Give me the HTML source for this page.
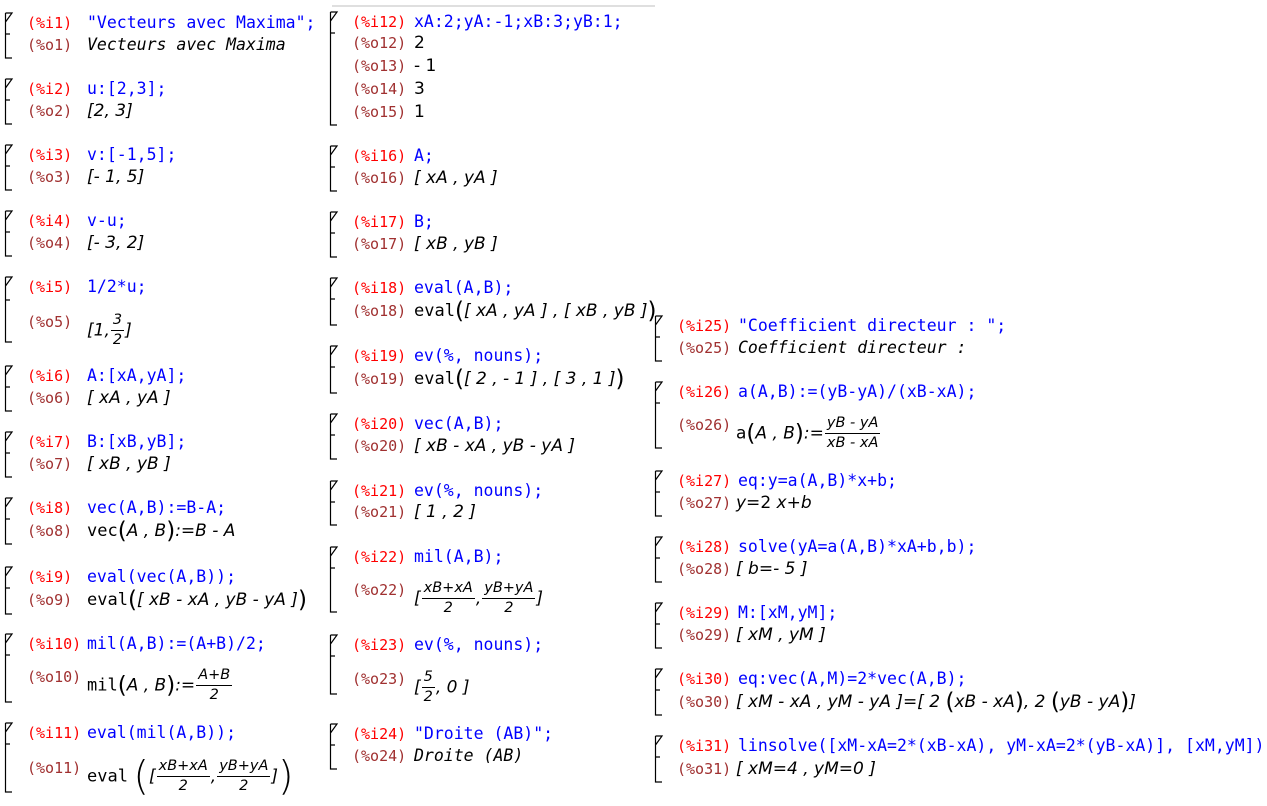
<!DOCTYPE html>
<html><head><meta charset="utf-8"><style>
body{margin:0;width:1267px;height:806px;background:#fff;position:relative;overflow:hidden}
.l{position:absolute;height:22px;white-space:pre}
.li{font:15px "DejaVu Sans Mono","Liberation Mono",monospace;color:#f00;line-height:22px}
.lo{font:15px "DejaVu Sans Mono","Liberation Mono",monospace;color:#a03030;line-height:22px}
.in{font:16.5px "DejaVu Sans Mono","Liberation Mono",monospace;color:#0000ff;line-height:22px}
.out{font:italic 16.5px "DejaVu Sans Mono","Liberation Mono",monospace;color:#000;line-height:22px}
.m{font:italic 17px "DejaVu Sans","Liberation Sans",sans-serif;color:#000;line-height:22px}
.up{font-style:normal;font-family:"DejaVu Sans Mono",monospace}
.fr{display:inline-block;vertical-align:middle;text-align:center;font-size:14.5px;line-height:19px;margin:0 1px}
.fr>span{display:block;padding:0 2px}
.fr>span:first-child{border-bottom:1px solid #000}
.bp{font-style:normal;font-size:23px;vertical-align:-2px}
.hp{font-style:normal;font-size:40px;vertical-align:-8px;font-weight:200}
</style></head><body>
<svg width="1267" height="806" style="position:absolute;left:0;top:0" stroke="#000" stroke-width="1.2" fill="none">
<line x1="332" y1="6" x2="655" y2="6" stroke="#ccc"/>
<path d="
M5.5 13V58H12M5.5 34H10M5.5 22L12 13H5.5
M5.5 79V124H12M5.5 100H10M5.5 88L12 79H5.5
M5.5 145V190H12M5.5 166H10M5.5 154L12 145H5.5
M5.5 211V256H12M5.5 232H10M5.5 220L12 211H5.5
M5.5 277V342H12M5.5 300H10M5.5 286L12 277H5.5
M5.5 366V411H12M5.5 387H10M5.5 375L12 366H5.5
M5.5 432V477H12M5.5 453H10M5.5 441L12 432H5.5
M5.5 498V544H12M5.5 519H10M5.5 507L12 498H5.5
M5.5 567V614H12M5.5 588H10M5.5 576L12 567H5.5
M5.5 634V702H12M5.5 655H10M5.5 643L12 634H5.5
M5.5 723V792H12M5.5 744H10M5.5 732L12 723H5.5
M330.5 12V125H337M330.5 33H335M330.5 21L337 12H330.5
M330.5 146V191H337M330.5 167H335M330.5 155L337 146H330.5
M330.5 212V257H337M330.5 233H335M330.5 221L337 212H330.5
M330.5 278V325H337M330.5 299H335M330.5 287L337 278H330.5
M330.5 346V393H337M330.5 367H335M330.5 355L337 346H330.5
M330.5 414V459H337M330.5 435H335M330.5 423L337 414H330.5
M330.5 481V525H337M330.5 502H335M330.5 490L337 481H330.5
M330.5 547V612H337M330.5 568H335M330.5 556L337 547H330.5
M330.5 635V694H337M330.5 656H335M330.5 644L337 635H330.5
M330.5 724V769H337M330.5 745H335M330.5 733L337 724H330.5
M655.5 316V361H662M655.5 337H660M655.5 325L662 316H655.5
M655.5 382V448H662M655.5 403H660M655.5 391L662 382H655.5
M655.5 471V516H662M655.5 492H660M655.5 480L662 471H655.5
M655.5 537V582H662M655.5 558H660M655.5 546L662 537H655.5
M655.5 603V648H662M655.5 624H660M655.5 612L662 603H655.5
M655.5 669V715H662M655.5 690H660M655.5 678L662 669H655.5
M655.5 736V782H662M655.5 757H660M655.5 745L662 736H655.5"/>
</svg>

<!-- column 1 -->
<div class="l li" style="left:27px;top:12px">(%i1)</div><div class="l in" style="left:87px;top:12px">"Vecteurs avec Maxima";</div>
<div class="l lo" style="left:27px;top:34px">(%o1)</div><div class="l out" style="left:87px;top:34px">Vecteurs avec Maxima</div>
<div class="l li" style="left:27px;top:78px">(%i2)</div><div class="l in" style="left:87px;top:78px">u:[2,3];</div>
<div class="l lo" style="left:27px;top:100px">(%o2)</div><div class="l m" style="left:87px;top:100px">[2, 3]</div>
<div class="l li" style="left:27px;top:144px">(%i3)</div><div class="l in" style="left:87px;top:144px">v:[-1,5];</div>
<div class="l lo" style="left:27px;top:166px">(%o3)</div><div class="l m" style="left:87px;top:166px">[- 1, 5]</div>
<div class="l li" style="left:27px;top:210px">(%i4)</div><div class="l in" style="left:87px;top:210px">v-u;</div>
<div class="l lo" style="left:27px;top:232px">(%o4)</div><div class="l m" style="left:87px;top:232px">[- 3, 2]</div>
<div class="l li" style="left:27px;top:276px">(%i5)</div><div class="l in" style="left:87px;top:276px">1/2*u;</div>
<div class="l lo" style="left:27px;top:311px">(%o5)</div><div class="l m" style="left:87px;top:311px">[1,<span class="fr"><span>3</span><span>2</span></span>]</div>
<div class="l li" style="left:27px;top:365px">(%i6)</div><div class="l in" style="left:87px;top:365px">A:[xA,yA];</div>
<div class="l lo" style="left:27px;top:387px">(%o6)</div><div class="l m" style="left:87px;top:387px">[ xA , yA ]</div>
<div class="l li" style="left:27px;top:431px">(%i7)</div><div class="l in" style="left:87px;top:431px">B:[xB,yB];</div>
<div class="l lo" style="left:27px;top:453px">(%o7)</div><div class="l m" style="left:87px;top:453px">[ xB , yB ]</div>
<div class="l li" style="left:27px;top:497px">(%i8)</div><div class="l in" style="left:87px;top:497px">vec(A,B):=B-A;</div>
<div class="l lo" style="left:27px;top:520px">(%o8)</div><div class="l m" style="left:87px;top:520px"><span class="up">vec</span><span class="bp">(</span>A , B<span class="bp">)</span>:=B - A</div>
<div class="l li" style="left:27px;top:566px">(%i9)</div><div class="l in" style="left:87px;top:566px">eval(vec(A,B));</div>
<div class="l lo" style="left:27px;top:589px">(%o9)</div><div class="l m" style="left:87px;top:589px"><span class="up">eval</span><span class="bp">(</span>[ xB - xA , yB - yA ]<span class="bp">)</span></div>
<div class="l li" style="left:27px;top:633px">(%i10)</div><div class="l in" style="left:87px;top:633px">mil(A,B):=(A+B)/2;</div>
<div class="l lo" style="left:27px;top:666px">(%o10)</div><div class="l m" style="left:87px;top:666px"><span class="up">mil</span><span class="bp">(</span>A , B<span class="bp">)</span>:=<span class="fr"><span>A+B</span><span>2</span></span></div>
<div class="l li" style="left:27px;top:722px">(%i11)</div><div class="l in" style="left:87px;top:722px">eval(mil(A,B));</div>
<div class="l lo" style="left:27px;top:757px">(%o11)</div><div class="l m" style="left:87px;top:757px"><span class="up">eval</span> <span class="hp">(</span>[<span class="fr"><span>xB+xA</span><span>2</span></span>,<span class="fr"><span>yB+yA</span><span>2</span></span>]<span class="hp">)</span></div>

<!-- column 2 -->
<div class="l li" style="left:352px;top:11px">(%i12)</div><div class="l in" style="left:414px;top:11px">xA:2;yA:-1;xB:3;yB:1;</div>
<div class="l lo" style="left:352px;top:32px">(%o12)</div><div class="l m" style="left:414px;top:32px;font-style:normal">2</div>
<div class="l lo" style="left:352px;top:55px">(%o13)</div><div class="l m" style="left:414px;top:55px;font-style:normal">- 1</div>
<div class="l lo" style="left:352px;top:78px">(%o14)</div><div class="l m" style="left:414px;top:78px;font-style:normal">3</div>
<div class="l lo" style="left:352px;top:101px">(%o15)</div><div class="l m" style="left:414px;top:101px;font-style:normal">1</div>
<div class="l li" style="left:352px;top:145px">(%i16)</div><div class="l in" style="left:414px;top:145px">A;</div>
<div class="l lo" style="left:352px;top:167px">(%o16)</div><div class="l m" style="left:414px;top:167px">[ xA , yA ]</div>
<div class="l li" style="left:352px;top:211px">(%i17)</div><div class="l in" style="left:414px;top:211px">B;</div>
<div class="l lo" style="left:352px;top:233px">(%o17)</div><div class="l m" style="left:414px;top:233px">[ xB , yB ]</div>
<div class="l li" style="left:352px;top:277px">(%i18)</div><div class="l in" style="left:414px;top:277px">eval(A,B);</div>
<div class="l lo" style="left:352px;top:300px">(%o18)</div><div class="l m" style="left:414px;top:300px"><span class="up">eval</span><span class="bp">(</span>[ xA , yA ] , [ xB , yB ]<span class="bp">)</span></div>
<div class="l li" style="left:352px;top:345px">(%i19)</div><div class="l in" style="left:414px;top:345px">ev(%, nouns);</div>
<div class="l lo" style="left:352px;top:368px">(%o19)</div><div class="l m" style="left:414px;top:368px"><span class="up">eval</span><span class="bp">(</span>[ 2 , - 1 ] , [ 3 , 1 ]<span class="bp">)</span></div>
<div class="l li" style="left:352px;top:413px">(%i20)</div><div class="l in" style="left:414px;top:413px">vec(A,B);</div>
<div class="l lo" style="left:352px;top:435px">(%o20)</div><div class="l m" style="left:414px;top:435px">[ xB - xA , yB - yA ]</div>
<div class="l li" style="left:352px;top:480px">(%i21)</div><div class="l in" style="left:414px;top:480px">ev(%, nouns);</div>
<div class="l lo" style="left:352px;top:501px">(%o21)</div><div class="l m" style="left:414px;top:501px">[ 1 , 2 ]</div>
<div class="l li" style="left:352px;top:546px">(%i22)</div><div class="l in" style="left:414px;top:546px">mil(A,B);</div>
<div class="l lo" style="left:352px;top:579px">(%o22)</div><div class="l m" style="left:414px;top:579px">[<span class="fr"><span>xB+xA</span><span>2</span></span>,<span class="fr"><span>yB+yA</span><span>2</span></span>]</div>
<div class="l li" style="left:352px;top:634px">(%i23)</div><div class="l in" style="left:414px;top:634px">ev(%, nouns);</div>
<div class="l lo" style="left:352px;top:668px">(%o23)</div><div class="l m" style="left:414px;top:668px">[<span class="fr"><span>5</span><span>2</span></span>, 0 ]</div>
<div class="l li" style="left:352px;top:723px">(%i24)</div><div class="l in" style="left:414px;top:723px">"Droite (AB)";</div>
<div class="l lo" style="left:352px;top:745px">(%o24)</div><div class="l out" style="left:414px;top:745px">Droite (AB)</div>

<!-- column 3 -->
<div class="l li" style="left:677px;top:315px">(%i25)</div><div class="l in" style="left:738px;top:315px">"Coefficient directeur : ";</div>
<div class="l lo" style="left:677px;top:337px">(%o25)</div><div class="l out" style="left:738px;top:337px">Coefficient directeur :</div>
<div class="l li" style="left:677px;top:381px">(%i26)</div><div class="l in" style="left:738px;top:381px">a(A,B):=(yB-yA)/(xB-xA);</div>
<div class="l lo" style="left:677px;top:414px">(%o26)</div><div class="l m" style="left:736px;top:414px"><span style="font-style:normal">a</span><span class="bp">(</span>A , B<span class="bp">)</span>:=<span class="fr"><span>yB - yA</span><span>xB - xA</span></span></div>
<div class="l li" style="left:677px;top:470px">(%i27)</div><div class="l in" style="left:738px;top:470px">eq:y=a(A,B)*x+b;</div>
<div class="l lo" style="left:677px;top:492px">(%o27)</div><div class="l m" style="left:736px;top:492px">y=<span style="font-style:normal">2</span> x+b</div>
<div class="l li" style="left:677px;top:536px">(%i28)</div><div class="l in" style="left:738px;top:536px">solve(yA=a(A,B)*xA+b,b);</div>
<div class="l lo" style="left:677px;top:558px">(%o28)</div><div class="l m" style="left:736px;top:558px">[ b=- 5 ]</div>
<div class="l li" style="left:677px;top:602px">(%i29)</div><div class="l in" style="left:738px;top:602px">M:[xM,yM];</div>
<div class="l lo" style="left:677px;top:624px">(%o29)</div><div class="l m" style="left:736px;top:624px">[ xM , yM ]</div>
<div class="l li" style="left:677px;top:668px">(%i30)</div><div class="l in" style="left:738px;top:668px">eq:vec(A,M)=2*vec(A,B);</div>
<div class="l lo" style="left:677px;top:691px">(%o30)</div><div class="l m" style="left:736px;top:691px">[ xM - xA , yM - yA ]=[ 2 <span class="bp">(</span>xB - xA<span class="bp">)</span>, 2 <span class="bp">(</span>yB - yA<span class="bp">)</span>]</div>
<div class="l li" style="left:677px;top:735px">(%i31)</div><div class="l in" style="left:738px;top:735px">linsolve([xM-xA=2*(xB-xA), yM-xA=2*(yB-xA)], [xM,yM]);</div>
<div class="l lo" style="left:677px;top:758px">(%o31)</div><div class="l m" style="left:736px;top:758px">[ xM=4 , yM=0 ]</div>
</body></html>
